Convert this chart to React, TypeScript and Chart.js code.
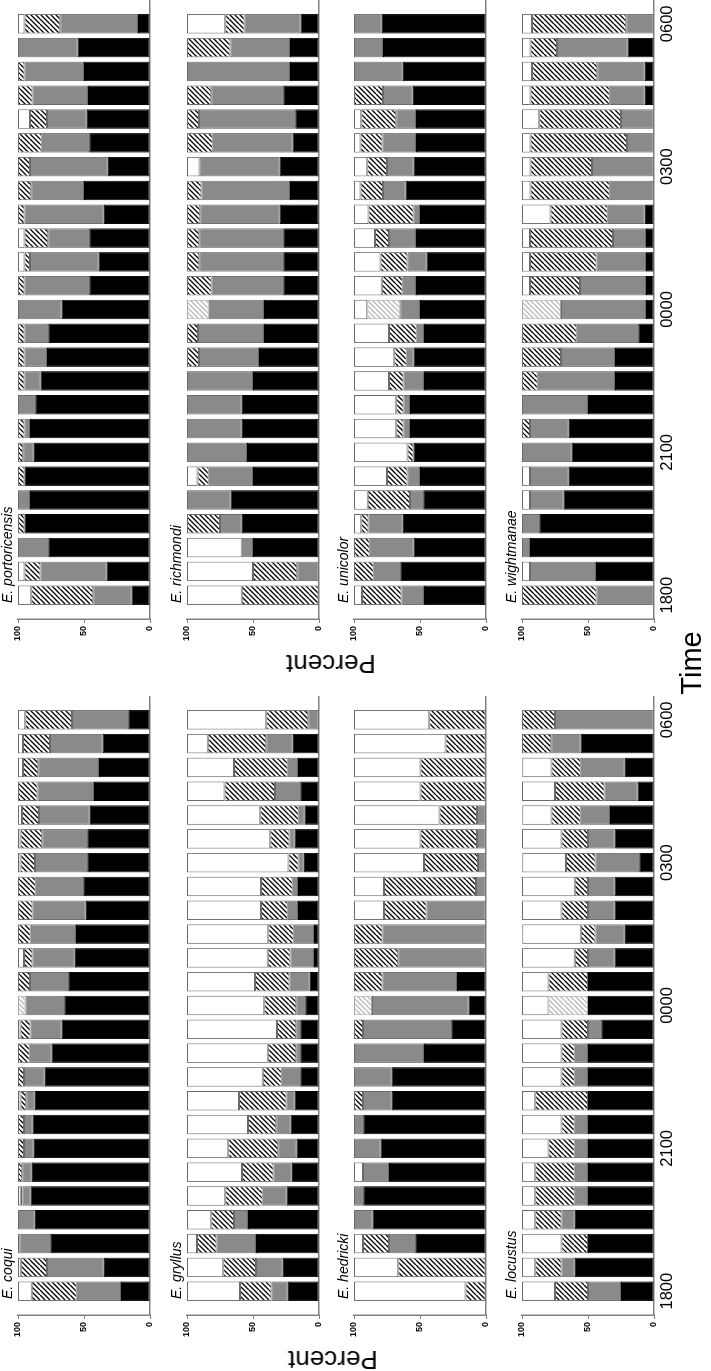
import React, { useEffect, useRef } from 'react';
import { Chart, registerables } from 'chart.js';

Chart.register(...registerables);

// ---------- categories & ticks ----------
const TIMES = ['1800', '1830', '1900', '1930', '2000', '2030', '2100', '2130', '2200', '2230', '2300', '2330', '0000', '0030', '0100', '0130', '0200', '0230', '0300', '0330', '0400', '0430', '0500', '0530', '0600'];
const TIME_TICKS = ['1800', '2100', '0000', '0300', '0600'];
const PERCENT_STEP = 50;

// ---------- data (percent of each category per time step) ----------
const PORTORICENSIS_BLACK = [14, 33, 77, 95, 91, 95, 88, 91, 87, 83, 78, 77, 67, 46, 39, 46, 35, 50, 32, 46, 48, 47, 50, 55, 9];
const PORTORICENSIS_GREY = [29, 50, 23, 0, 9, 0, 8, 4, 13, 12, 17, 18, 33, 49, 52, 31, 60, 40, 59, 36, 30, 42, 45, 45, 59];
const PORTORICENSIS_HATCH = [47, 12, 0, 5, 0, 5, 4, 5, 0, 5, 5, 5, 0, 5, 4, 18, 5, 10, 9, 18, 13, 11, 5, 0, 27];
const PORTORICENSIS_WHITE = [10, 5, 0, 0, 0, 0, 0, 0, 0, 0, 0, 0, 0, 0, 5, 5, 0, 0, 0, 0, 9, 0, 0, 0, 5];

const RICHMONDI_BLACK = [0, 0, 50, 58.5, 67, 50, 54.5, 58.5, 58.5, 50, 45.5, 41.7, 41.7, 27, 27, 27, 30, 22, 30, 20, 18, 27, 22, 22, 14];
const RICHMONDI_GREY = [0, 16.5, 8.5, 16.5, 33, 33.5, 45.5, 41.5, 41.5, 50, 45.5, 50, 41.8, 54.5, 63.8, 63.8, 60, 67, 60.6, 60.5, 73, 54.7, 78, 45, 42.5];
const RICHMONDI_HATCH = [58.5, 33.5, 0, 25, 0, 8.5, 0, 0, 0, 0, 9, 8.3, 16.5, 18.5, 9.2, 9.2, 10, 11, 0, 19.5, 9, 18.3, 0, 33, 14.5];
const RICHMONDI_WHITE = [41.5, 50, 41.5, 0, 0, 8, 0, 0, 0, 0, 0, 0, 0, 0, 0, 0, 0, 0, 9.4, 0, 0, 0, 0, 0, 29];

const UNICOLOR_BLACK = [47, 65, 55, 63, 47.5, 50, 55, 57.5, 57.5, 47, 55, 47, 50, 53, 45, 53, 50, 61, 55, 53, 53, 55.5, 63, 78, 79];
const UNICOLOR_GREY = [17, 20, 33, 26, 10, 9.5, 0, 5, 5, 15.5, 5, 5.5, 15, 10, 14.5, 20.5, 5, 17, 20, 25.5, 15, 22.5, 37, 22, 21];
const UNICOLOR_HATCH = [30, 15, 12, 5.5, 32, 15.5, 4.5, 5.5, 5.5, 11, 9.5, 21, 25, 16, 20.5, 10.5, 34, 17, 15, 16.5, 26.5, 22, 0, 0, 0];
const UNICOLOR_WHITE = [6, 0, 0, 5.5, 10.5, 25, 40.5, 32, 32, 26.5, 30.5, 26.5, 10, 21, 20, 16, 11, 5, 10, 5, 5.5, 0, 0, 0, 0];

const WIGHTMANAE_BLACK = [0, 44, 94, 87, 68.5, 64.5, 62.5, 64.5, 50, 29.5, 29.5, 12, 6, 6, 6, 6, 7, 0, 0, 0, 0, 7, 7, 20, 0];
const WIGHTMANAE_GREY = [43.5, 50, 6, 13, 25.5, 29.5, 37.5, 29.5, 50, 58.5, 41, 46.5, 64.5, 50, 37.5, 25, 28, 33.5, 47, 20.5, 25, 26.5, 36, 53.5, 21];
const WIGHTMANAE_HATCH = [56.5, 0, 0, 0, 0, 0, 0, 6, 0, 12, 29.5, 41.5, 29.5, 38, 50.5, 63, 43.5, 60, 46.5, 73, 62, 60, 49.5, 20, 71.5];
const WIGHTMANAE_WHITE = [0, 6, 0, 0, 6, 6, 0, 0, 0, 0, 0, 0, 0, 6, 6, 6, 21.5, 6.5, 6.5, 6.5, 13, 6.5, 7.5, 6.5, 7.5];

const COQUI_BLACK = [22, 35, 75.5, 87.3, 90.5, 89.5, 88, 89, 87.3, 79.7, 74.7, 67, 65, 62, 57, 56, 48.6, 50.6, 47.6, 47.6, 45.6, 42.5, 38.7, 36, 16.5];
const COQUI_GREY = [33.5, 43, 22.5, 12.7, 6, 7.2, 7.5, 6.4, 6.4, 15.7, 16.4, 23.5, 29.4, 29, 32, 34.3, 40.5, 36, 39.5, 34, 38.4, 42.8, 46, 39.7, 42.5];
const COQUI_HATCH = [34, 20, 1, 0, 1.5, 3.3, 4.5, 4.6, 4.5, 4.6, 8.9, 7.7, 5.6, 9, 6.4, 9.7, 10.9, 13.4, 11, 16.6, 13, 14.7, 11.5, 20.5, 35.5];
const COQUI_WHITE = [10.5, 2, 1, 0, 2, 0, 0, 0, 1.8, 0, 0, 1.8, 0, 0, 4.6, 0, 0, 0, 1.9, 1.8, 3, 0, 3.8, 3.8, 5.5];

const GRYLLUS_BLACK = [23.7, 27.5, 47.8, 53.7, 24.7, 20.6, 17, 21.6, 18.6, 14.2, 14.2, 14.2, 10.4, 7.1, 3.8, 3.8, 16, 16, 11.5, 18.6, 10.9, 14.2, 16, 19.8, 0];
const GRYLLUS_GREY = [12.2, 20.3, 29.8, 10.7, 18, 13.8, 13.8, 10.7, 6.1, 14, 3.1, 3.1, 6.9, 15.3, 17.8, 15.3, 7.7, 3.8, 4, 3.8, 4.4, 19.1, 7.7, 20.1, 8.1];
const GRYLLUS_HATCH = [24, 24.7, 14.8, 17.3, 28.3, 24, 38, 21.4, 36, 14.5, 21.6, 14.5, 24.2, 26, 17.3, 19.3, 20.3, 24.2, 7.7, 14.5, 29.2, 38.2, 40.7, 44.3, 31.8];
const GRYLLUS_WHITE = [40.1, 27.5, 7.6, 18.3, 29, 41.6, 31.2, 46.3, 39.3, 57.3, 61.1, 68.2, 58.5, 51.6, 61.1, 61.6, 56, 56, 76.8, 63.1, 55.5, 28.5, 35.6, 15.8, 60.1];

const HEDRICKI_BLACK = [0, 0, 53.6, 86, 93, 73.4, 80, 93, 71.6, 71.6, 47, 26.4, 13.2, 22, 0, 0, 0, 0, 0, 0, 0, 0, 0, 0, 0];
const HEDRICKI_GREY = [0, 0, 19.8, 14, 7, 19.7, 20, 7, 21.5, 28.4, 53, 66.7, 73.1, 56.4, 66.5, 78.4, 45, 7.6, 6.1, 6.9, 6.9, 0, 0, 0, 0];
const HEDRICKI_HATCH = [15.5, 66.5, 19.7, 0, 0, 0, 0, 0, 6.9, 0, 0, 6.9, 13.7, 21.6, 33.5, 21.6, 32.2, 69.6, 40.9, 42.8, 28.4, 49.7, 49.7, 30.7, 42.9];
const HEDRICKI_WHITE = [84.5, 33.5, 6.9, 0, 0, 6.9, 0, 0, 0, 0, 0, 0, 0, 0, 0, 0, 22.8, 22.8, 53, 50.3, 64.7, 50.3, 50.3, 69.3, 57.1];

const LOCUSTUS_BLACK = [25, 60, 50, 60, 50, 50, 50, 50, 50, 50, 50, 40, 50, 50, 30, 22.2, 30, 30, 11.1, 30, 33.3, 12.5, 22.2, 55.6, 0];
const LOCUSTUS_GREY = [25, 10, 0, 10, 10, 10, 10, 10, 0, 10, 10, 10, 0, 0, 20, 22.2, 20, 20, 33.3, 20, 22.2, 25, 33.3, 22.2, 75];
const LOCUSTUS_HATCH = [25, 20, 20, 20, 30, 30, 20, 10, 40, 10, 10, 20, 30, 30, 10, 11.1, 20, 10, 22.2, 20, 22.2, 37.5, 22.2, 22.2, 25];
const LOCUSTUS_WHITE = [25, 10, 30, 10, 10, 10, 20, 30, 10, 30, 30, 30, 20, 20, 40, 44.4, 30, 40, 33.3, 30, 22.2, 25, 22.2, 0, 0];

// ---------- styling / layout (figure is built upright, then turned 90deg) ----------
const FONT = '"Liberation Sans", Arial, Helvetica, sans-serif';
const FIG_W = 1371;
const FIG_H = 711;
const PLOT_W = 619;
const PLOT_H = 132;
const AXIS_W = 50;
const TITLE_H = 18;
const COL_LEFT = [56, 752];
const ROW_TOP = [18, 187, 354, 522];
const GREY = '#8a8a8a';
const EDGE = '#6a6a6a';
const AXIS = '#808080';

type PanelDef = {
  name: string;
  black: number[];
  grey: number[];
  hatch: number[];
  white: number[];
  col: number;
  row: number;
  lightMidnight: boolean;
};

const PANELS: PanelDef[] = [
  { name: 'E. coqui', black: COQUI_BLACK, grey: COQUI_GREY, hatch: COQUI_HATCH, white: COQUI_WHITE, col: 0, row: 0, lightMidnight: true },
  { name: 'E. gryllus', black: GRYLLUS_BLACK, grey: GRYLLUS_GREY, hatch: GRYLLUS_HATCH, white: GRYLLUS_WHITE, col: 0, row: 1, lightMidnight: false },
  { name: 'E. hedricki', black: HEDRICKI_BLACK, grey: HEDRICKI_GREY, hatch: HEDRICKI_HATCH, white: HEDRICKI_WHITE, col: 0, row: 2, lightMidnight: true },
  { name: 'E. locustus', black: LOCUSTUS_BLACK, grey: LOCUSTUS_GREY, hatch: LOCUSTUS_HATCH, white: LOCUSTUS_WHITE, col: 0, row: 3, lightMidnight: true },
  { name: 'E. portoricensis', black: PORTORICENSIS_BLACK, grey: PORTORICENSIS_GREY, hatch: PORTORICENSIS_HATCH, white: PORTORICENSIS_WHITE, col: 1, row: 0, lightMidnight: true },
  { name: 'E. richmondi', black: RICHMONDI_BLACK, grey: RICHMONDI_GREY, hatch: RICHMONDI_HATCH, white: RICHMONDI_WHITE, col: 1, row: 1, lightMidnight: true },
  { name: 'E. unicolor', black: UNICOLOR_BLACK, grey: UNICOLOR_GREY, hatch: UNICOLOR_HATCH, white: UNICOLOR_WHITE, col: 1, row: 2, lightMidnight: true },
  { name: 'E. wightmanae', black: WIGHTMANAE_BLACK, grey: WIGHTMANAE_GREY, hatch: WIGHTMANAE_HATCH, white: WIGHTMANAE_WHITE, col: 1, row: 3, lightMidnight: true },
];

function makeHatch(ctx: CanvasRenderingContext2D, color: string): CanvasPattern | string {
  const S = 10;
  const tile = document.createElement('canvas');
  tile.width = S;
  tile.height = S;
  const g = tile.getContext('2d');
  if (!g) return '#fff';
  g.fillStyle = '#ffffff';
  g.fillRect(0, 0, S, S);
  g.strokeStyle = color;
  g.lineWidth = 1.3;
  g.beginPath();
  for (let k = -2; k <= 5; k++) {
    g.moveTo(k * 5, 0);
    g.lineTo(k * 5 - S, S);
  }
  g.stroke();
  return ctx.createPattern(tile, 'repeat') || '#fff';
}

function Panel({ p }: { p: PanelDef }) {
  const ref = useRef<HTMLCanvasElement>(null);
  const isBottom = p.row === 3;
  const bottomH = isBottom ? 40 : 6;
  const width = AXIS_W + PLOT_W;
  const height = TITLE_H + PLOT_H + bottomH;

  useEffect(() => {
    const canvas = ref.current;
    if (!canvas) return;
    const ctx = canvas.getContext('2d');
    if (!ctx) return;
    const labels = ['', ...TIMES, ''];
    const pad = (arr: number[]) => [null, ...arr.map((v) => (v > 0 ? v : null)), null];
    const hatch = makeHatch(ctx, '#000000');
    const light = makeHatch(ctx, '#b8b8b8');
    const isLight = (l: string) => p.lightMidnight && l === '0000';
    const hatchBg = labels.map((l) => (isLight(l) ? light : hatch));
    const hatchEdge = labels.map((l) => (isLight(l) ? '#a8a8a8' : EDGE));
    const common = {
      borderWidth: 1,
      borderSkipped: false as const,
      inflateAmount: 0,
      categoryPercentage: 1,
      barPercentage: 0.82,
    };
    const titlePlugin = {
      id: 'panelTitle',
      afterDraw(chart: any) {
        const c = chart.ctx as CanvasRenderingContext2D;
        const area = chart.chartArea;
        c.save();
        c.font = `italic 14px ${FONT}`;
        c.fillStyle = '#000';
        c.textAlign = 'left';
        c.textBaseline = 'alphabetic';
        c.fillText(p.name, area.left + 16, area.top - 6);
        c.restore();
      },
    };
    const chart = new Chart(canvas, {
      type: 'bar',
      data: {
        labels,
        datasets: [
          { label: 'black', data: pad(p.black), backgroundColor: '#000000', borderColor: '#000000', ...common },
          { label: 'grey', data: pad(p.grey), backgroundColor: GREY, borderColor: EDGE, ...common },
          { label: 'hatch', data: pad(p.hatch), backgroundColor: hatchBg as any, borderColor: hatchEdge, ...common },
          { label: 'white', data: pad(p.white), backgroundColor: '#ffffff', borderColor: EDGE, ...common },
        ],
      } as any,
      options: {
        animation: false,
        responsive: false,
        maintainAspectRatio: false,
        events: [],
        layout: { padding: { top: TITLE_H, left: 0, right: 0, bottom: 0 } },
        plugins: {
          legend: { display: false },
          tooltip: { enabled: false },
          title: { display: false },
        },
        scales: {
          x: {
            type: 'category',
            stacked: true,
            offset: false,
            grid: { display: false, drawTicks: false },
            border: { display: true, color: AXIS, width: 1.5 },
            ticks: {
              display: isBottom,
              autoSkip: false,
              maxRotation: 0,
              minRotation: 0,
              padding: 4,
              color: '#000',
              font: { family: FONT, size: 16.5 },
              callback: (_v: any, i: number) => (TIME_TICKS.includes(labels[i]) ? labels[i] : ''),
            },
            afterFit: (s: any) => {
              s.height = bottomH;
              s.paddingLeft = 0;
              s.paddingRight = 0;
            },
          },
          y: {
            stacked: true,
            min: 0,
            max: 100,
            grid: { drawOnChartArea: false, drawTicks: true, tickLength: 4, color: AXIS, lineWidth: 1 },
            border: { display: true, color: AXIS, width: 1.5 },
            ticks: {
              stepSize: PERCENT_STEP,
              padding: 3,
              color: '#000',
              font: { family: FONT, size: 9, weight: 'bold' },
            },
            afterFit: (s: any) => {
              s.width = AXIS_W;
              s.paddingTop = 0;
              s.paddingBottom = 0;
            },
          },
        },
      } as any,
      plugins: [titlePlugin],
    });
    return () => chart.destroy();
  }, []);

  return (
    <canvas
      ref={ref}
      width={width}
      height={height}
      style={{
        position: 'absolute',
        left: COL_LEFT[p.col] - AXIS_W,
        top: ROW_TOP[p.row] - TITLE_H,
        width,
        height,
      }}
    />
  );
}

export default function App() {
  const label: React.CSSProperties = {
    position: 'absolute',
    fontFamily: FONT,
    color: '#000',
    lineHeight: 1,
    whiteSpace: 'nowrap',
  };
  return (
    <div
      style={{
        position: 'fixed',
        left: 0,
        top: 0,
        width: FIG_W,
        height: FIG_H,
        background: '#fff',
        transformOrigin: '0 0',
        transform: `translateY(${FIG_W}px) rotate(-90deg)`,
        overflow: 'hidden',
      }}
    >
      {PANELS.map((p) => (
        <Panel key={p.name} p={p} />
      ))}
      <div style={{ ...label, left: 11, top: 333, fontSize: 26, transform: 'translate(-50%, -50%) rotate(-90deg)' }}>Percent</div>
      <div style={{ ...label, left: 707, top: 331, fontSize: 26, transform: 'translate(-50%, -50%) rotate(-90deg)' }}>Percent</div>
      <div style={{ ...label, left: 708, top: 691, fontSize: 29, transform: 'translate(-50%, -50%)' }}>Time</div>
    </div>
  );
}
